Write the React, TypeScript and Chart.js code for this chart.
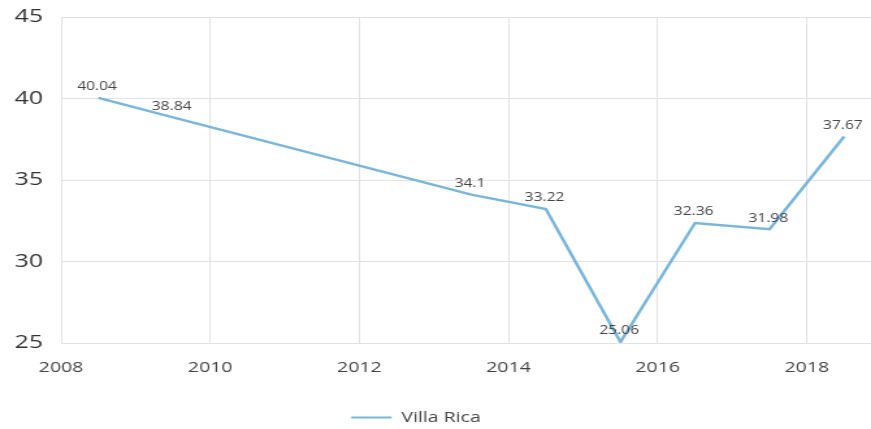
import React, { useEffect, useRef } from "react";
import { Chart, registerables } from "chart.js";

Chart.register(...registerables);

const seriesName = "Villa Rica";
const years = [2008.5, 2009.5, 2013.5, 2014.5, 2015.5, 2016.5, 2017.5, 2018.5];
const values = [40.04, 38.84, 34.1, 33.22, 25.06, 32.36, 31.98, 37.67];
const xTickValues = [2008, 2010, 2012, 2014, 2016, 2018];
const yTickValues = [25, 30, 35, 40, 45];
const xMin = 2008;
const xMax = 2018.86;
const yMin = 25;
const yMax = 45;

const STRETCH = 1.3;
const W = 871;
const H = 429;
const CW = Math.round(W / STRETCH);

const lineColor = "#78b6da";
const gridColor = "#e2e2e2";
const FONT = "'Open Sans', 'Noto Sans', sans-serif";

const valueLabels = {
  id: "valueLabels",
  afterDatasetsDraw(chart: any) {
    const ctx = chart.ctx;
    const meta = chart.getDatasetMeta(0);
    ctx.save();
    ctx.font = `12px ${FONT}`;
    ctx.fillStyle = "#444";
    ctx.textAlign = "center";
    ctx.textBaseline = "bottom";
    meta.data.forEach((pt: any, i: number) => {
      ctx.fillText(String(values[i]), pt.x - 1, pt.y - 5);
    });
    ctx.restore();
  },
};

const legendShift = {
  id: "legendShift",
  afterLayout(chart: any) {
    const lg = chart.legend;
    if (lg) {
      lg.left = -30;
      lg.width = lg.right - lg.left;
    }
  },
};

export default function App() {
  const ref = useRef<HTMLCanvasElement | null>(null);
  useEffect(() => {
    if (!ref.current) return;
    const chart = new Chart(ref.current, {
      type: "line",
      data: {
        datasets: [
          {
            label: seriesName,
            data: years.map((y, i) => ({ x: y, y: values[i] })),
            borderColor: lineColor,
            backgroundColor: lineColor,
            borderWidth: 2.5,
            pointRadius: 0,
            tension: 0,
          },
        ],
      },
      options: {
        responsive: false,
        animation: false,
        devicePixelRatio: 1,
        layout: { padding: { top: 17, left: 0, right: 0, bottom: -6 } },
        plugins: {
          legend: {
            position: "bottom",
            labels: {
              boxWidth: 31,
              boxHeight: 2,
              padding: 10,
              color: "#444",
              font: { family: FONT, size: 15 },
              generateLabels: () => [
                {
                  text: seriesName,
                  fillStyle: lineColor,
                  strokeStyle: lineColor,
                  lineWidth: 0,
                  hidden: false,
                  datasetIndex: 0,
                  fontColor: "#444",
                } as any,
              ],
            },
          },
          tooltip: { enabled: false },
        },
        scales: {
          x: {
            type: "linear",
            min: xMin,
            max: xMax,
            afterBuildTicks: (scale: any) => {
              scale.ticks = xTickValues.map((v) => ({ value: v }));
            },
            afterFit: (scale: any) => {
              scale.height = 57;
              scale.paddingLeft = 0;
              scale.paddingRight = 0;
            },
            ticks: {
              padding: 16,
              color: "#444",
              font: { family: FONT, size: 15 },
              maxRotation: 0,
              autoSkip: false,
              callback: (v: any) => String(v),
            },
            grid: { color: gridColor, drawTicks: false, lineWidth: 1 },
            border: { color: gridColor },
          },
          y: {
            min: yMin,
            max: yMax,
            afterBuildTicks: (scale: any) => {
              scale.ticks = yTickValues.map((v) => ({ value: v }));
            },
            afterFit: (scale: any) => {
              scale.width = 47;
              scale.paddingTop = 0;
              scale.paddingBottom = 0;
            },
            ticks: {
              padding: 14,
              color: "#333",
              font: { family: FONT, size: 19 },
              callback: (v: any) => String(v),
            },
            grid: { color: gridColor, drawTicks: false, lineWidth: 1 },
            border: { color: gridColor },
          },
        },
      },
      plugins: [valueLabels, legendShift],
    } as any);
    return () => chart.destroy();
  }, []);

  return (
    <div style={{ position: "absolute", left: 0, top: 0, width: W, height: H, background: "#fff" }}>
      <canvas
        ref={ref}
        width={CW}
        height={H}
        style={{ width: `${W}px`, height: `${H}px`, display: "block" }}
      />
    </div>
  );
}
